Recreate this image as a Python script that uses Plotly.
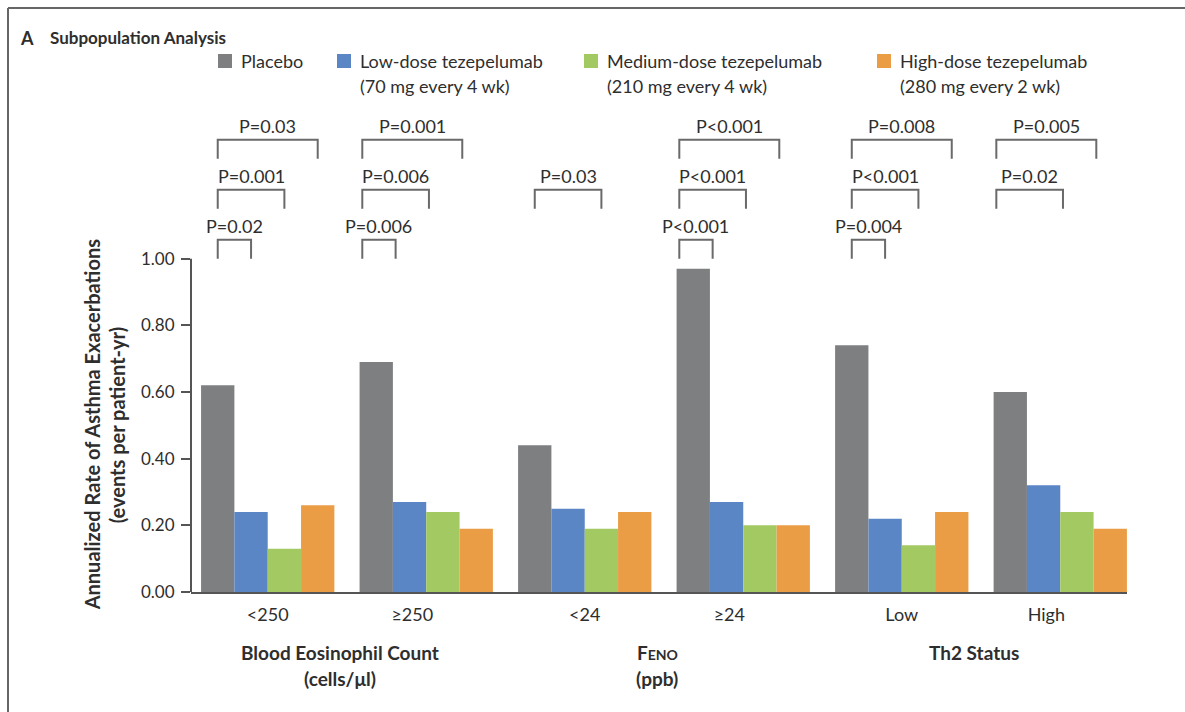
import plotly.graph_objects as go

# ---- data -------------------------------------------------------------
groups = ["<250", "≥250", "<24", "≥24", "Low", "High"]
group_titles = ["Blood Eosinophil Count", "F<span style='font-size:14px'>ENO</span>", "Th2 Status"]
group_units = ["(cells/μl)", "(ppb)", ""]

arm_names = ["Placebo", "Low-dose tezepelumab", "Medium-dose tezepelumab", "High-dose tezepelumab"]
arm_doses = ["", "(70 mg every 4 wk)", "(210 mg every 4 wk)", "(280 mg every 2 wk)"]

placebo = [0.62, 0.69, 0.44, 0.97, 0.74, 0.60]
low_dose = [0.24, 0.27, 0.25, 0.27, 0.22, 0.32]
medium_dose = [0.13, 0.24, 0.19, 0.20, 0.14, 0.24]
high_dose = [0.26, 0.19, 0.24, 0.20, 0.24, 0.19]

# (subgroup index, arm compared with placebo, label)
p_values = [
    (0, 1, "P=0.02"), (0, 2, "P=0.001"), (0, 3, "P=0.03"),
    (1, 1, "P=0.006"), (1, 2, "P=0.006"), (1, 3, "P=0.001"),
    (2, 2, "P=0.03"),
    (3, 1, "P<0.001"), (3, 2, "P<0.001"), (3, 3, "P<0.001"),
    (4, 1, "P=0.004"), (4, 2, "P<0.001"), (4, 3, "P=0.008"),
    (5, 2, "P=0.02"), (5, 3, "P=0.005"),
]

y_ticks = [0.0, 0.2, 0.4, 0.6, 0.8, 1.0]

# ---- styling ------------------------------------------------------------
colors = ["#7e7f81", "#5a86c6", "#a3c963", "#eb9d46"]
FONT = "Lato"
TEXT = "#2e2e2e"
LINE = "#555555"

W, H = 1185, 712
M_L, M_R, M_T, M_B = 191, 58, 92, 120
BARGAP = 0.159
n_arms = 4
bar_w = (1 - BARGAP) / n_arms
# labels/brackets of the second subgroup in each pair are set a little to the left
LABEL_NUDGE = -0.088


def px(x):
    return (x - M_L) / (W - M_L - M_R)


def py(y):
    return (H - M_B - y) / (H - M_T - M_B)


def label_pos(g):
    return g + (LABEL_NUDGE if g % 2 else 0.0)


series = [placebo, low_dose, medium_dose, high_dose]
x_idx = list(range(len(groups)))

fig = go.Figure()
for name, vals, col in zip(arm_names, series, colors):
    fig.add_trace(go.Bar(x=x_idx, y=vals, name=name, marker=dict(color=col, line=dict(width=0)),
                         showlegend=False))

shapes = []
annotations = []

# y axis spine, only across the value range
shapes.append(dict(type="line", xref="paper", yref="y", x0=0, x1=0, y0=0, y1=max(y_ticks),
                   line=dict(color=LINE, width=2)))

# significance brackets: placebo vs each active arm
leg_bottom = [1.0, 1.15, 1.30]
leg_height = 0.057
for g, arm, label in p_values:
    c = label_pos(g)
    xa = c + (0 - 1.5) * bar_w
    xb = c + (arm - 1.5) * bar_w
    yb = leg_bottom[arm - 1]
    yt = yb + leg_height
    shapes.append(dict(type="path", xref="x", yref="y",
                       path=f"M {xa},{yb} L {xa},{yt} L {xb},{yt} L {xb},{yb}",
                       line=dict(color="#6a6a6a", width=2)))
    annotations.append(dict(x=(xa + xb) / 2, y=yt + 0.042, xref="x", yref="y", text=label,
                            showarrow=False, xanchor="center", yanchor="middle",
                            font=dict(family=FONT, size=18, color=TEXT)))

# subgroup titles below the axis
for i, (t, u) in enumerate(zip(group_titles, group_units)):
    xc = (label_pos(2 * i) + label_pos(2 * i + 1)) / 2
    annotations.append(dict(x=xc, y=py(652), xref="x", yref="paper", text=f"<b>{t}</b>",
                            showarrow=False, xanchor="center", yanchor="middle",
                            font=dict(family=FONT, size=19, color=TEXT)))
    if u:
        annotations.append(dict(x=xc, y=py(678), xref="x", yref="paper", text=f"<b>{u}</b>",
                                showarrow=False, xanchor="center", yanchor="middle",
                                font=dict(family=FONT, size=19, color=TEXT)))

# y axis title (two lines)
annotations.append(dict(x=px(92), y=0.5, xref="paper", yref="y", textangle=-90,
                        text="<b>Annualized Rate of Asthma Exacerbations</b>", showarrow=False,
                        xanchor="center", yanchor="middle", font=dict(family=FONT, size=20, color=TEXT)))
annotations.append(dict(x=px(117), y=0.5, xref="paper", yref="y", textangle=-90,
                        text="<b>(events per patient-yr)</b>", showarrow=False,
                        xanchor="center", yanchor="middle", font=dict(family=FONT, size=20, color=TEXT)))

# panel heading
annotations.append(dict(x=px(18), y=py(38), xref="paper", yref="paper",
                        text="<b>A</b>", showarrow=False, xanchor="left", yanchor="middle",
                        font=dict(family=FONT, size=18, color=TEXT)))
annotations.append(dict(x=px(48), y=py(38), xref="paper", yref="paper",
                        text="<b>Subpopulation Analysis</b>", showarrow=False, xanchor="left",
                        yanchor="middle", font=dict(family=FONT, size=17, color=TEXT)))

# legend keys
key_x = [218, 337, 584, 877]
for kx, name, dose, col in zip(key_x, arm_names, arm_doses, colors):
    shapes.append(dict(type="rect", xref="paper", yref="paper", x0=px(kx), x1=px(kx + 14),
                       y0=py(68), y1=py(54), fillcolor=col, line=dict(width=0)))
    annotations.append(dict(x=px(kx + 21), y=py(61), xref="paper", yref="paper", text=name,
                            showarrow=False, xanchor="left", yanchor="middle",
                            font=dict(family=FONT, size=18, color=TEXT)))
    if dose:
        annotations.append(dict(x=px(kx + 21), y=py(86), xref="paper", yref="paper", text=dose,
                                showarrow=False, xanchor="left", yanchor="middle",
                                font=dict(family=FONT, size=18, color=TEXT)))

# panel frame (top and left edges)
shapes.append(dict(type="line", xref="paper", yref="paper", x0=px(8), x1=px(W), y0=py(8), y1=py(8),
                   line=dict(color="#666666", width=2)))
shapes.append(dict(type="line", xref="paper", yref="paper", x0=px(8), x1=px(8), y0=py(8), y1=py(H),
                   line=dict(color="#666666", width=2)))

fig.update_layout(
    width=W, height=H,
    margin=dict(l=M_L, r=M_R, t=M_T, b=M_B),
    paper_bgcolor="white", plot_bgcolor="white",
    barmode="group", bargap=BARGAP, bargroupgap=0,
    font=dict(family=FONT, size=16, color=TEXT),
    shapes=shapes, annotations=annotations,
    xaxis=dict(range=[-0.484, 5.421], tickmode="array",
               tickvals=[label_pos(g) for g in x_idx], ticktext=groups,
               showline=True, linecolor=LINE, linewidth=2, ticks="", showgrid=False,
               zeroline=False, ticklabelstandoff=5,
               tickfont=dict(family=FONT, size=18, color=TEXT)),
    yaxis=dict(range=[0, 1.5], tickmode="array", tickvals=y_ticks,
               ticktext=[f"{v:.2f}" for v in y_ticks], ticks="outside", ticklen=9,
               tickwidth=2, tickcolor=LINE, showline=False, showgrid=False, zeroline=False,
               ticklabelstandoff=3,
               tickfont=dict(family=FONT, size=17, color=TEXT)),
)

fig.write_html("out.html")
